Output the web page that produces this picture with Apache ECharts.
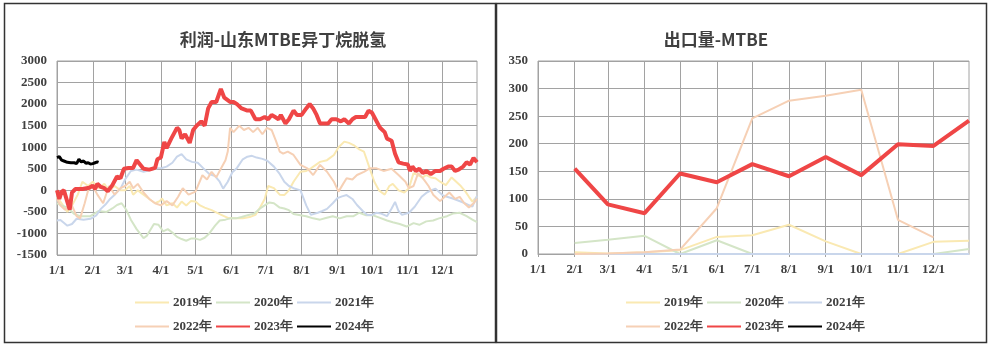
<!DOCTYPE html>
<html><head><meta charset="utf-8">
<script src="https://cdn.jsdelivr.net/npm/echarts@6/dist/echarts.min.js"></script>
<style>html,body{margin:0;padding:0;background:#fff}#c{width:989px;height:345px}</style>
</head><body><div id="c"></div>
<script>
// ---- axis / tick labels ----
const monthDays = [31,28,31,30,31,30,31,31,30,31,30,31];
const monthTickLabels = ['1/1','2/1','3/1','4/1','5/1','6/1','7/1','8/1','9/1','10/1','11/1','12/1'];
const profitTicks = [-1500,-1000,-500,0,500,1000,1500,2000,2500,3000];
const exportTicks = [0,50,100,150,200,250,300,350];
const seriesNames = ['2019年','2020年','2021年','2022年','2023年','2024年'];

// ---- left chart: profit (day index, value) ----
const profit2019 = [[0,-150],[4,-300],[9,-500],[13,-350],[18,-100],[22,200],[27,100],[31,200],[36,50],[41,150],[45,0],[50,100],[55,0],[59,0],[63,100],[66,-100],[70,0],[75,-100],[80,-200],[85,-300],[89,-250],[91,-190],[95,-350],[100,-300],[104,-400],[108,-260],[112,-350],[116,-250],[120,-260],[124,-350],[128,-400],[134,-460],[141,-550],[149,-650],[155,-650],[161,-650],[167,-620],[172,-570],[176,-400],[180,-200],[183,100],[188,50],[193,-100],[197,-110],[201,0],[205,200],[211,430],[216,450],[220,510],[228,660],[234,700],[240,820],[244,1000],[249,1130],[253,1100],[257,1050],[262,950],[266,900],[271,510],[275,200],[279,0],[284,-100],[288,100],[291,150],[296,0],[301,-50],[305,50],[309,400],[313,350],[317,300],[320,355],[324,300],[328,280],[332,200],[337,120],[342,300],[346,200],[350,100],[354,-30],[357,-150],[360,-260],[364,-150]];
const profit2020 = [[0,-300],[4,-350],[9,-400],[15,-550],[20,-600],[29,-600],[36,-480],[43,-500],[48,-420],[52,-340],[56,-300],[60,-450],[64,-680],[69,-900],[75,-1110],[78,-1050],[84,-780],[88,-800],[92,-950],[96,-900],[100,-980],[104,-1080],[108,-1130],[112,-1170],[116,-1120],[120,-1120],[124,-1150],[128,-1100],[132,-1000],[137,-820],[141,-700],[146,-680],[150,-650],[155,-650],[160,-620],[166,-570],[171,-540],[176,-420],[180,-350],[184,-280],[188,-300],[193,-400],[197,-420],[201,-460],[205,-550],[211,-580],[216,-600],[222,-650],[228,-680],[233,-640],[239,-600],[245,-650],[251,-600],[257,-600],[262,-520],[268,-580],[274,-580],[280,-640],[286,-700],[291,-740],[297,-780],[303,-840],[309,-760],[314,-800],[320,-720],[326,-700],[331,-650],[338,-600],[343,-540],[349,-520],[355,-600],[360,-680],[364,-740]];
const profit2021 = [[0,-700],[3,-690],[9,-820],[13,-780],[17,-660],[23,-680],[29,-660],[34,-580],[38,-430],[42,-330],[46,-200],[50,-100],[55,40],[59,250],[64,450],[69,480],[75,430],[81,470],[87,510],[91,520],[95,550],[100,640],[104,780],[108,840],[112,720],[117,660],[122,640],[128,480],[132,380],[137,330],[141,200],[144,40],[148,200],[152,420],[156,520],[161,720],[165,780],[169,800],[173,760],[178,730],[182,690],[188,550],[193,380],[197,200],[201,100],[205,50],[211,0],[216,-350],[220,-570],[226,-520],[230,-480],[234,-430],[239,-300],[243,-180],[247,-140],[251,-110],[256,-200],[260,-340],[265,-480],[269,-570],[273,-570],[277,-520],[281,-540],[286,-600],[290,-420],[293,-270],[296,-480],[299,-570],[305,-520],[310,-380],[316,-150],[320,-60],[324,0],[328,40],[334,-110],[338,-150],[343,-190],[347,-230],[351,-270],[356,-330],[360,-380],[364,-130]];
const profit2022 = [[0,-200],[3,-350],[7,-450],[12,-300],[17,-600],[20,-650],[24,-300],[27,0],[31,100],[35,-100],[40,-300],[45,100],[50,-100],[55,50],[59,100],[63,200],[66,50],[70,150],[75,-50],[80,-200],[85,-300],[90,-350],[95,-250],[100,-350],[105,-150],[109,50],[114,-100],[120,-30],[126,350],[130,250],[134,430],[138,300],[142,500],[146,700],[148,900],[150,1450],[153,1350],[158,1500],[162,1400],[166,1450],[170,1350],[174,1450],[178,1300],[182,1450],[186,1400],[190,1130],[193,900],[196,850],[200,900],[205,820],[211,590],[217,510],[222,355],[228,590],[234,430],[240,200],[244,-30],[248,150],[251,280],[256,250],[260,355],[266,430],[271,510],[277,510],[283,450],[290,500],[296,355],[302,200],[305,50],[309,100],[313,400],[318,250],[322,100],[326,-100],[332,-250],[336,-150],[340,-50],[345,-200],[349,-150],[353,-300],[357,-400],[361,-300],[364,-200]];
const profit2023 = [[0,0],[2,-200],[4,-30],[6,0],[8,-180],[11,-450],[13,-50],[16,30],[22,30],[28,60],[31,110],[33,30],[35,150],[38,80],[41,50],[44,-20],[48,120],[52,320],[55,280],[58,500],[62,520],[66,520],[69,700],[72,600],[75,500],[80,480],[85,520],[87,720],[90,760],[93,1120],[95,980],[99,1200],[104,1450],[106,1400],[108,1200],[111,1300],[115,1100],[118,1400],[121,1500],[125,1600],[128,1500],[131,1900],[134,2050],[138,2050],[142,2350],[145,2150],[150,2050],[153,2050],[156,2000],[160,1900],[165,1850],[168,1850],[172,1650],[176,1650],[180,1700],[183,1650],[186,1750],[189,1700],[192,1650],[194,1750],[196,1650],[198,1550],[201,1650],[205,1850],[208,1750],[212,1750],[216,1900],[219,2000],[222,1900],[225,1750],[228,1550],[231,1550],[235,1550],[238,1650],[242,1650],[246,1600],[249,1650],[253,1550],[256,1650],[259,1700],[263,1700],[267,1700],[270,1850],[273,1800],[276,1650],[280,1450],[284,1350],[286,1200],[290,1150],[293,850],[296,650],[300,620],[304,600],[306,450],[308,550],[311,450],[314,500],[317,400],[320,450],[324,380],[328,450],[332,450],[335,500],[339,550],[342,550],[345,450],[348,480],[352,550],[355,650],[358,600],[361,750],[364,650]];
const profit2024 = [[0,760],[2,780],[4,700],[6,680],[9,650],[12,640],[15,640],[17,620],[19,720],[21,660],[23,680],[25,630],[27,640],[29,610],[31,620],[33,640],[35,660],[36,650]];

// ---- right chart: export volume (day index, value) ----
const export2019 = [[31,3],[59,1],[90,3],[120,7],[151,31],[181,34],[212,53],[243,23],[273,0],[304,0],[334,22],[364,24]];
const export2020 = [[31,20],[59,26],[90,33],[120,0],[151,25],[181,0],[212,0],[243,0],[273,0],[304,0],[334,0],[364,9]];
const export2021 = [[31,0],[59,0],[90,0],[120,0],[151,0],[181,0],[212,0],[243,0],[273,0],[304,0],[334,0],[364,0]];
const export2022 = [[31,0],[59,1],[90,3],[120,8],[151,83],[181,246],[212,278],[243,287],[273,298],[304,62],[334,30]];
const export2023 = [[31,155],[59,90],[90,74],[120,146],[151,130],[181,163],[212,141],[243,176],[273,143],[304,199],[334,196],[364,242]];
const export2024 = [];

// ---- build ----
const dayCats = [];
monthDays.forEach((n, m) => { for (let d = 1; d <= n; d++) dayCats.push((m + 1) + '/' + d); });
const isMonthStart = (i) => monthTickLabels.indexOf(dayCats[i]) >= 0;

const colors = ['#FAE9B2','#D4E5C7','#C9D6EB','#F6D0B5','#EF4646','#000000'];
const widths = [2,2,2,2,4,3];
const serif = '"Liberation Serif","Times New Roman",serif';
const gridColor = '#a2a2a2';
const textColor = '#404040';

function xAxisFor(gi, ticks) {
  return {
    type: 'category', gridIndex: gi, data: dayCats, boundaryGap: false,
    axisLine: {show: true, lineStyle: {color: gridColor}},
    axisTick: {show: ticks, length: 3, interval: isMonthStart, lineStyle: {color: gridColor}},
    axisLabel: {interval: isMonthStart, color: textColor, fontFamily: serif, fontSize: 13, fontWeight: 'bold', margin: 9},
    splitLine: {show: true, interval: isMonthStart, lineStyle: {color: gridColor, width: 1}}
  };
}
function yAxisFor(gi, ticks) {
  return {
    type: 'value', gridIndex: gi, min: ticks[0], max: ticks[ticks.length - 1], interval: ticks[1] - ticks[0],
    axisLine: {show: false}, axisTick: {show: false},
    axisLabel: {color: textColor, fontFamily: serif, fontSize: 13, fontWeight: 'bold', margin: 10,
      formatter: (v) => String(v)},
    splitLine: {lineStyle: {color: gridColor, width: 1}}
  };
}
function makeSeries(gi, arrs) {
  return arrs.map((d, i) => ({
    name: seriesNames[i], type: 'line', xAxisIndex: gi, yAxisIndex: gi, data: d,
    symbol: 'none', smooth: false, z: 2 + i,
    lineStyle: {color: colors[i], width: widths[i]}, itemStyle: {color: colors[i]}
  }));
}
function legendsFor(left) {
  const common = {
    left: left, orient: 'horizontal', itemWidth: 34, itemHeight: 12, itemGap: 3,
    itemStyle: {opacity: 0},
    textStyle: {color: textColor, fontFamily: serif, fontSize: 13, fontWeight: 'bold', padding: [0,0,0,-1]}
  };
  return [
    Object.assign({}, common, {top: 291, data: seriesNames.slice(0, 3)}),
    Object.assign({}, common, {top: 315, data: seriesNames.slice(3, 6)})
  ];
}

const chart = echarts.init(document.getElementById('c'), null, {renderer: 'canvas'});
chart.setOption({
  animation: false,
  backgroundColor: '#fff',
  title: [
    {text: '利润-山东MTBE异丁烷脱氢', left: 278, top: 26, textAlign: 'center',
     textStyle: {fontFamily: '"Noto Sans CJK SC"', fontSize: 17, fontWeight: 'bold', color: '#404040'}},
    {text: '出口量-MTBE', left: 711, top: 26, textAlign: 'center',
     textStyle: {fontFamily: '"Noto Sans CJK SC"', fontSize: 17, fontWeight: 'bold', color: '#404040'}}
  ],
  grid: [
    {left: 57, top: 61, width: 420, height: 194, show: true, borderColor: gridColor, borderWidth: 1},
    {left: 538, top: 61, width: 431, height: 193, show: true, borderColor: gridColor, borderWidth: 1}
  ],
  xAxis: [xAxisFor(0, false), xAxisFor(1, true)],
  yAxis: [yAxisFor(0, profitTicks), yAxisFor(1, exportTicks)],
  legend: legendsFor(129).concat(legendsFor(620)),
  series: makeSeries(0, [profit2019, profit2020, profit2021, profit2022, profit2023, profit2024])
    .concat(makeSeries(1, [export2019, export2020, export2021, export2022, export2023, export2024])),
  graphic: [
    {type: 'rect', silent: true, shape: {x: 4.5, y: 3.5, width: 491, height: 339}, style: {fill: null, stroke: '#333', lineWidth: 1.5}},
    {type: 'rect', silent: true, shape: {x: 496.5, y: 3.5, width: 490, height: 339}, style: {fill: null, stroke: '#333', lineWidth: 1.5}}
  ]
});
</script></body></html>
